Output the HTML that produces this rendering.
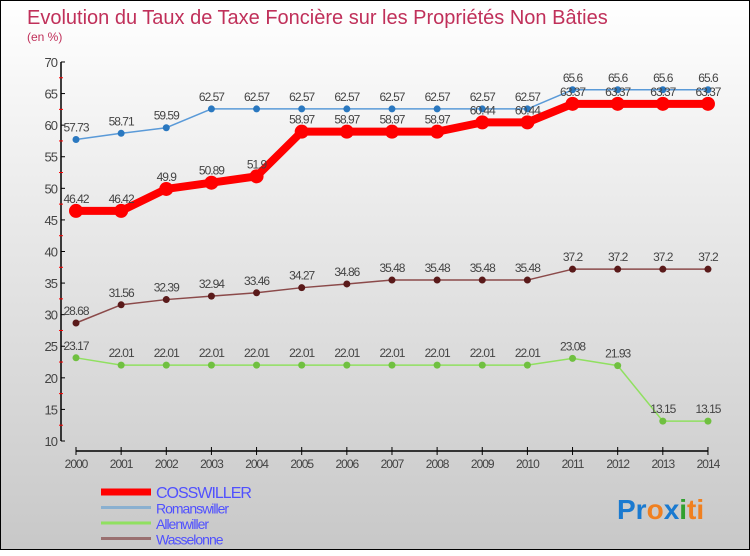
<!DOCTYPE html>
<html><head><meta charset="utf-8"><style>
body{margin:0;width:750px;height:550px;overflow:hidden}
#c{position:absolute;left:0;top:0;width:748px;height:548px;border:1px solid #000;background:linear-gradient(#fff,#c8c8c8)}
svg text{font-family:"Liberation Sans",sans-serif}
</style></head><body>
<div id="c">
<svg id="s" width="750" height="550">
<text x="26" y="23" font-size="20" fill="#c0305a">Evolution du Taux de Taxe Foncière sur les Propriétés Non Bâties</text>
<text x="26" y="40" font-size="12" fill="#c0305a">(en %)</text>
<g id="g"></g>
<text x="616" y="518" font-size="28" font-weight="bold"><tspan fill="#1a7ad0">Pr</tspan><tspan fill="#f08020">o</tspan><tspan fill="#1a7ad0">x</tspan><tspan fill="#30a030">i</tspan><tspan fill="#f08020">ti</tspan></text>
</svg></div>
<script>
const years=[2000,2001,2002,2003,2004,2005,2006,2007,2008,2009,2010,2011,2012,2013,2014];
const yTicks=[10,15,20,25,30,35,40,45,50,55,60,65,70];
const cosswiller=[46.42,46.42,49.9,50.89,51.9,58.97,58.97,58.97,58.97,60.44,60.44,63.37,63.37,63.37,63.37];
const romanswiller=[57.73,58.71,59.59,62.57,62.57,62.57,62.57,62.57,62.57,62.57,62.57,65.6,65.6,65.6,65.6];
const allenwiller=[23.17,22.01,22.01,22.01,22.01,22.01,22.01,22.01,22.01,22.01,22.01,23.08,21.93,13.15,13.15];
const wasselonne=[28.68,31.56,32.39,32.94,33.46,34.27,34.86,35.48,35.48,35.48,35.48,37.2,37.2,37.2,37.2];
const NS='http://www.w3.org/2000/svg',g=document.getElementById('g');
const X=i=>75+i*45.14, Y=v=>440-(v-10)*6.317;
function mk(t,a){const e=document.createElementNS(NS,t);for(const k in a)e.setAttribute(k,a[k]);g.appendChild(e);return e;}
let e=mk('line',{x1:60,y1:61,x2:60,y2:440,stroke:'#000','stroke-width':1.5});


e=mk('line',{x1:75,y1:450,x2:707,y2:450,stroke:'#000','stroke-width':1.5});


yTicks.forEach(v=>{mk('line',{x1:60,x2:64,y1:Y(v),y2:Y(v),stroke:'#000'});
 if(v<70)mk('line',{x1:58,x2:62,y1:Y(v+2.5),y2:Y(v+2.5),stroke:'#f00'});
 const t=mk('text',{x:56,y:Y(v)+5,'font-size':13,fill:'#444','text-anchor':'end','letter-spacing':'-1'});t.textContent=v;
 
 });
years.forEach((y,i)=>{mk('line',{x1:X(i),x2:X(i),y1:446,y2:454,stroke:'#000'});
 const t=mk('text',{x:X(i),y:467,'font-size':12,fill:'#444','text-anchor':'middle','letter-spacing':'-1'});t.textContent=y;
 
 });
function series(d,col,dot,w,r,name){
 const pl=mk('polyline',{points:d.map((v,i)=>X(i)+','+Y(v)).join(' '),fill:'none',stroke:col,'stroke-width':w,'stroke-linejoin':'round'});
 
 
 d.forEach((v,i)=>{const c=mk('circle',{cx:X(i),cy:Y(v),r:r,fill:dot});
  
  
  const t=mk('text',{x:X(i),y:Y(v)-8,'font-size':12,fill:'#444','text-anchor':'middle','letter-spacing':'-1'});
  t.textContent=String(v).replace('.','.');
  
  });
}
series(wasselonne,'#8b4a4a','#5a1a1a',1.5,3.5,'wasselonne');
series(allenwiller,'#90e060','#70c040',1.5,3.5,'allenwiller');
series(romanswiller,'#5a9ad8','#2a78c0',1.5,3.5,'romanswiller');
series(cosswiller,'#f00','#f00',8,7,'cosswiller');
const leg=[['COSSWILLER','#f00',7,14],['Romanswiller','#8ab0d0',3,12],['Allenwiller','#90e060',3,12],['Wasselonne','#9a7070',3,12]];
leg.forEach((l,i)=>{const y=491+i*15.5;
 const ln=mk('line',{x1:100,x2:150,y1:y,y2:y,stroke:l[1],'stroke-width':l[2]});
 
 
 const t=mk('text',{x:155,y:y+6,'font-size':l[3]+2,fill:'#5050ff','letter-spacing':'-1'});t.textContent=l[0];
 
 });
</script>
</body></html>
